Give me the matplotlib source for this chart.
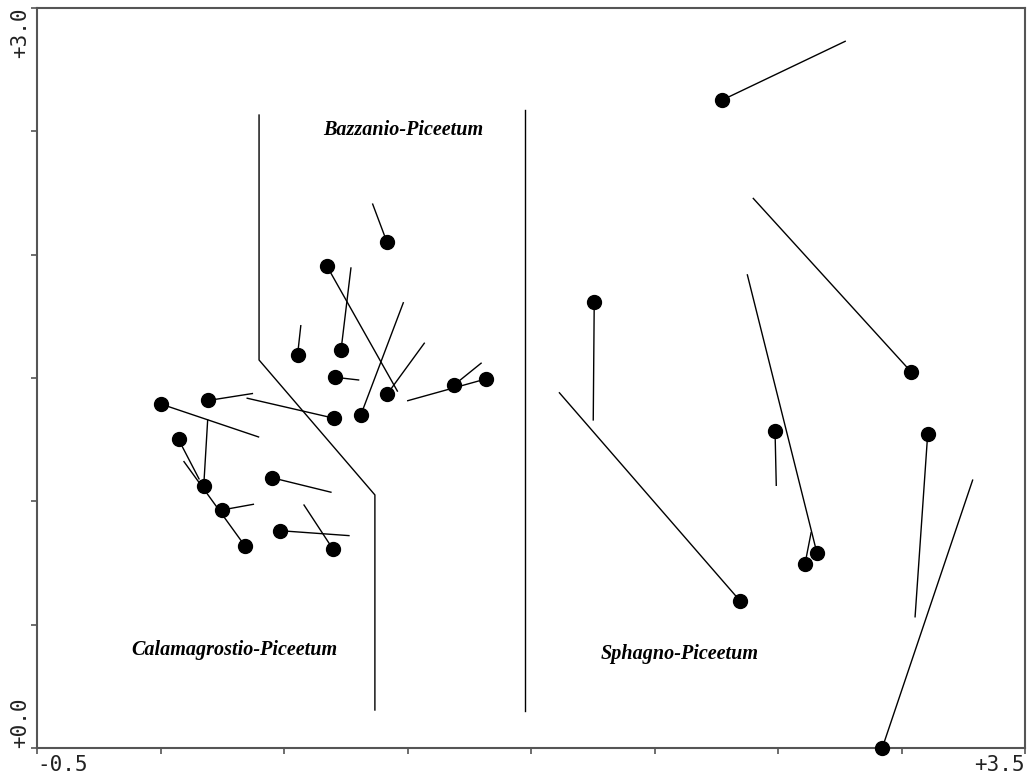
import matplotlib
matplotlib.use("Agg")
import matplotlib.pyplot as plt

# Site scores (dot positions) and arrow end points
dot_x = [0.916, 0.673, 0.731, 0.555, 0.706, 0.918, 0.811, 1.189, 1.317, 0.702,
         0.194, 0.000, 0.073, 0.175, 0.249, 0.342, 0.450, 0.484, 0.697,
         2.272, 3.038, 1.756, 2.346, 2.488, 2.658, 2.609, 3.106, 2.922]
dot_y = [2.053, 1.955, 1.614, 1.594, 1.503, 1.435, 1.350, 1.472, 1.496, 1.337,
         1.409, 1.395, 1.251, 1.062, 0.965, 0.819, 1.096, 0.881, 0.808,
         2.626, 1.526, 1.809, 0.597, 1.286, 0.789, 0.745, 1.272, 0.000]
end_x = [0.859, 0.959, 0.771, 0.568, 0.802, 1.068, 0.983, 1.298, 1.001, 0.351,
         0.372, 0.397, 0.156, 0.191, 0.376, 0.095, 0.690, 0.763, 0.581,
         2.772, 2.400, 1.752, 1.615, 2.493, 2.376, 2.634, 3.055, 3.288]
end_y = [2.205, 1.447, 1.946, 1.712, 1.492, 1.641, 1.805, 1.560, 1.408, 1.418,
         1.437, 1.261, 1.091, 1.330, 0.988, 1.161, 1.037, 0.861, 0.985,
         2.865, 2.228, 1.330, 1.440, 1.065, 1.918, 0.873, 0.532, 1.086]

# Community boundaries
bound1_x = [0.399, 0.399, 0.868, 0.868]
bound1_y = [2.566, 1.573, 1.026, 0.154]
bound2_x = [1.476, 1.476]
bound2_y = [2.586, 0.150]

labels = ["Bazzanio-Piceetum", "Calamagrostio-Piceetum", "Sphagno-Piceetum"]
label_x = [0.982, 0.298, 2.101]
label_y = [2.505, 0.397, 0.381]

x_ticks = [-0.5, 0.0, 0.5, 1.0, 1.5, 2.0, 2.5, 3.0, 3.5]
y_ticks = [0.0, 0.5, 1.0, 1.5, 2.0, 2.5, 3.0]

fig = plt.figure(figsize=(10.28, 7.75), dpi=100)
ax = fig.add_axes([37/1028, 27/775, 988/1028, 740/775])

for xs, ys in [(bound1_x, bound1_y), (bound2_x, bound2_y)]:
    ax.plot(xs, ys, color="black", lw=1.0)

for i in range(len(dot_x)):
    ax.plot([dot_x[i], end_x[i]], [dot_y[i], end_y[i]], color="black", lw=1.0,
            clip_on=False)
ax.plot(dot_x, dot_y, "o", color="black", ms=10, clip_on=False, zorder=5)

for t, x, y in zip(labels, label_x, label_y):
    ax.text(x, y, t, ha="center", va="center", family="Liberation Serif",
            fontweight="bold", style="italic", fontsize=14.5)

ax.set_xlim(-0.5, 3.5)
ax.set_ylim(0.0, 3.0)
ax.set_xticks(x_ticks)
ax.set_yticks(y_ticks)
ax.set_xticklabels(["-0.5"] + [""] * 7 + ["+3.5"])
ax.set_yticklabels(["+0.0"] + [""] * 5 + ["+3.0"])
for lab in ax.get_xticklabels() + ax.get_yticklabels():
    lab.set_family("DejaVu Sans Mono")
    lab.set_fontsize(15)
    lab.set_color("#222222")
xl = ax.get_xticklabels()
xl[0].set_ha("left")
xl[-1].set_ha("right")
yl = ax.get_yticklabels()
for lab in yl:
    lab.set_rotation(90)
yl[0].set_va("bottom")
yl[-1].set_va("top")
ax.tick_params(direction="out", length=4, width=1.2, color="#555555", pad=1)

for s in ax.spines.values():
    s.set_color("#555555")
    s.set_linewidth(1.5)

fig.savefig("out.png", dpi=100)
